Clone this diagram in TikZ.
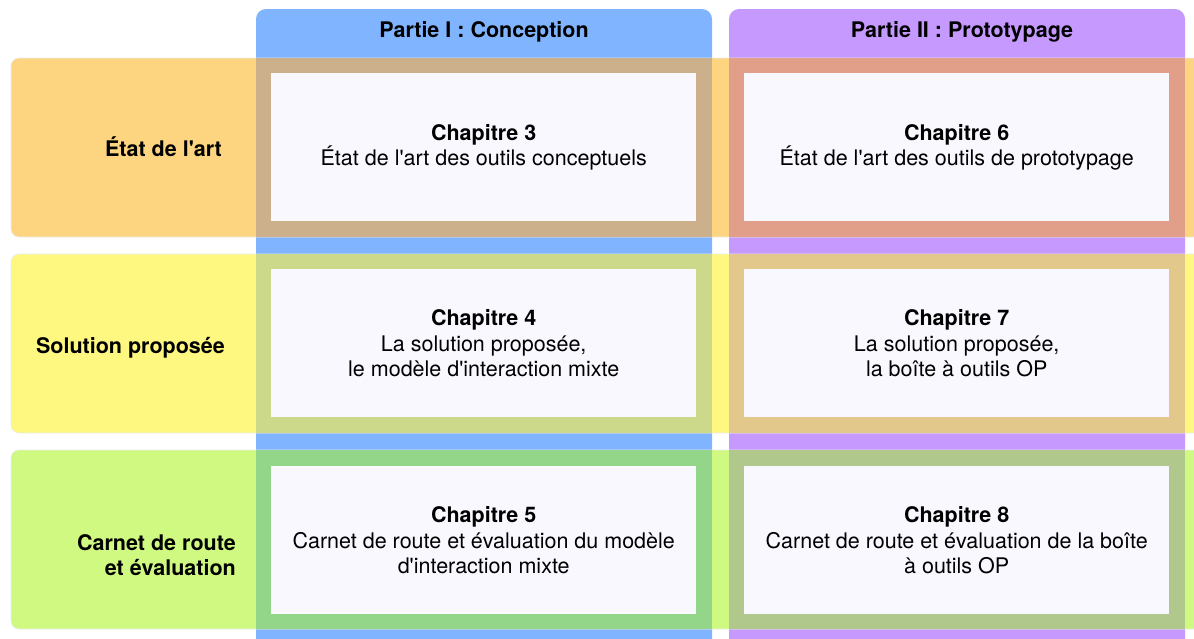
\documentclass[tikz,border=0pt]{standalone}
\usepackage{fontspec}
\setmainfont{TeX Gyre Heros}
\newcommand{\ap}{\textquotesingle}

% Column and row fills
\definecolor{colOne}{HTML}{80B4FF}
\definecolor{colTwo}{HTML}{C699FF}
\definecolor{rowOne}{HTML}{FDD580}
\definecolor{rowTwo}{HTML}{FEF880}
\definecolor{rowThree}{HTML}{CFF980}
% Where a row crosses a column
\definecolor{mixOneOne}{HTML}{CBB08B}
\definecolor{mixOneTwo}{HTML}{E19F89}
\definecolor{mixTwoOne}{HTML}{CDD98A}
\definecolor{mixTwoTwo}{HTML}{E2C88A}
\definecolor{mixThreeOne}{HTML}{93D68A}
\definecolor{mixThreeTwo}{HTML}{B0C88C}
\definecolor{cardFill}{HTML}{F9F8FF}

\begin{document}
\begin{tikzpicture}[x=1pt,y=-1pt,
  txt/.style={font=\fontsize{21.5}{25.5}\selectfont, inner sep=0pt},
  colband/.style={rounded corners=10pt},
  rowband/.style={rounded corners=8pt, draw=black!8, line width=0.6pt},
  card/.style={txt, fill=cardFill, minimum width=425pt, minimum height=148pt,
               align=center, anchor=north west},
  rowlabel/.style={txt, font=\fontsize{21.5}{25.5}\selectfont\bfseries, align=right},
  header/.style={txt, font=\fontsize{21.5}{25.5}\selectfont\bfseries, anchor=base}
]
\useasboundingbox (0,0) rectangle (1194,638);
\clip (0,0) rectangle (1194,638);

% Part columns
\fill[colband, colOne] (256,9) rectangle (712,680);
\fill[colband, colTwo] (729,9) rectangle (1185,680);

% Theme rows
\filldraw[rowband, fill=rowOne]   (11,58)  rectangle (1230,237);
\filldraw[rowband, fill=rowTwo]   (11,254) rectangle (1230,433);
\filldraw[rowband, fill=rowThree] (11,450) rectangle (1230,629);

% Crossings
\fill[mixOneOne]   (256,58)  rectangle (712,237);
\fill[mixOneTwo]   (729,58)  rectangle (1185,237);
\fill[mixTwoOne]   (256,254) rectangle (712,433);
\fill[mixTwoTwo]   (729,254) rectangle (1185,433);
\fill[mixThreeOne] (256,450) rectangle (712,629);
\fill[mixThreeTwo] (729,450) rectangle (1185,629);

% Headers
\node[header] (h1) at (484,37) {Partie I : Conception};
\node[header] (h2) at (962,37) {Partie II : Prototypage};

% Row labels
\node[rowlabel, anchor=base east] (r1) at (222,156) {État de l\ap art};
\node[rowlabel, anchor=base east] (r2) at (225,353) {Solution proposée};
\node[rowlabel, anchor=east] (r3) at (236,555) {Carnet de route\\et évaluation};

% Chapter cards
\node[card] (c3) at (271,73)  {{\bfseries Chapitre 3}\\État de l\ap art des outils conceptuels};
\node[card] (c6) at (744,73)  {{\bfseries Chapitre 6}\\État de l\ap art des outils de prototypage};
\node[card] (c4) at (271,269) {{\bfseries Chapitre 4}\\La solution proposée,\\le modèle d\ap interaction mixte};
\node[card] (c7) at (744,269) {{\bfseries Chapitre 7}\\La solution proposée,\\la boîte à outils OP};
\node[card] (c5) at (271,466) {{\bfseries Chapitre 5}\\Carnet de route et évaluation du modèle\\d\ap interaction mixte};
\node[card] (c8) at (744,466) {{\bfseries Chapitre 8}\\Carnet de route et évaluation de la boîte\\à outils OP};
\end{tikzpicture}
\end{document}
